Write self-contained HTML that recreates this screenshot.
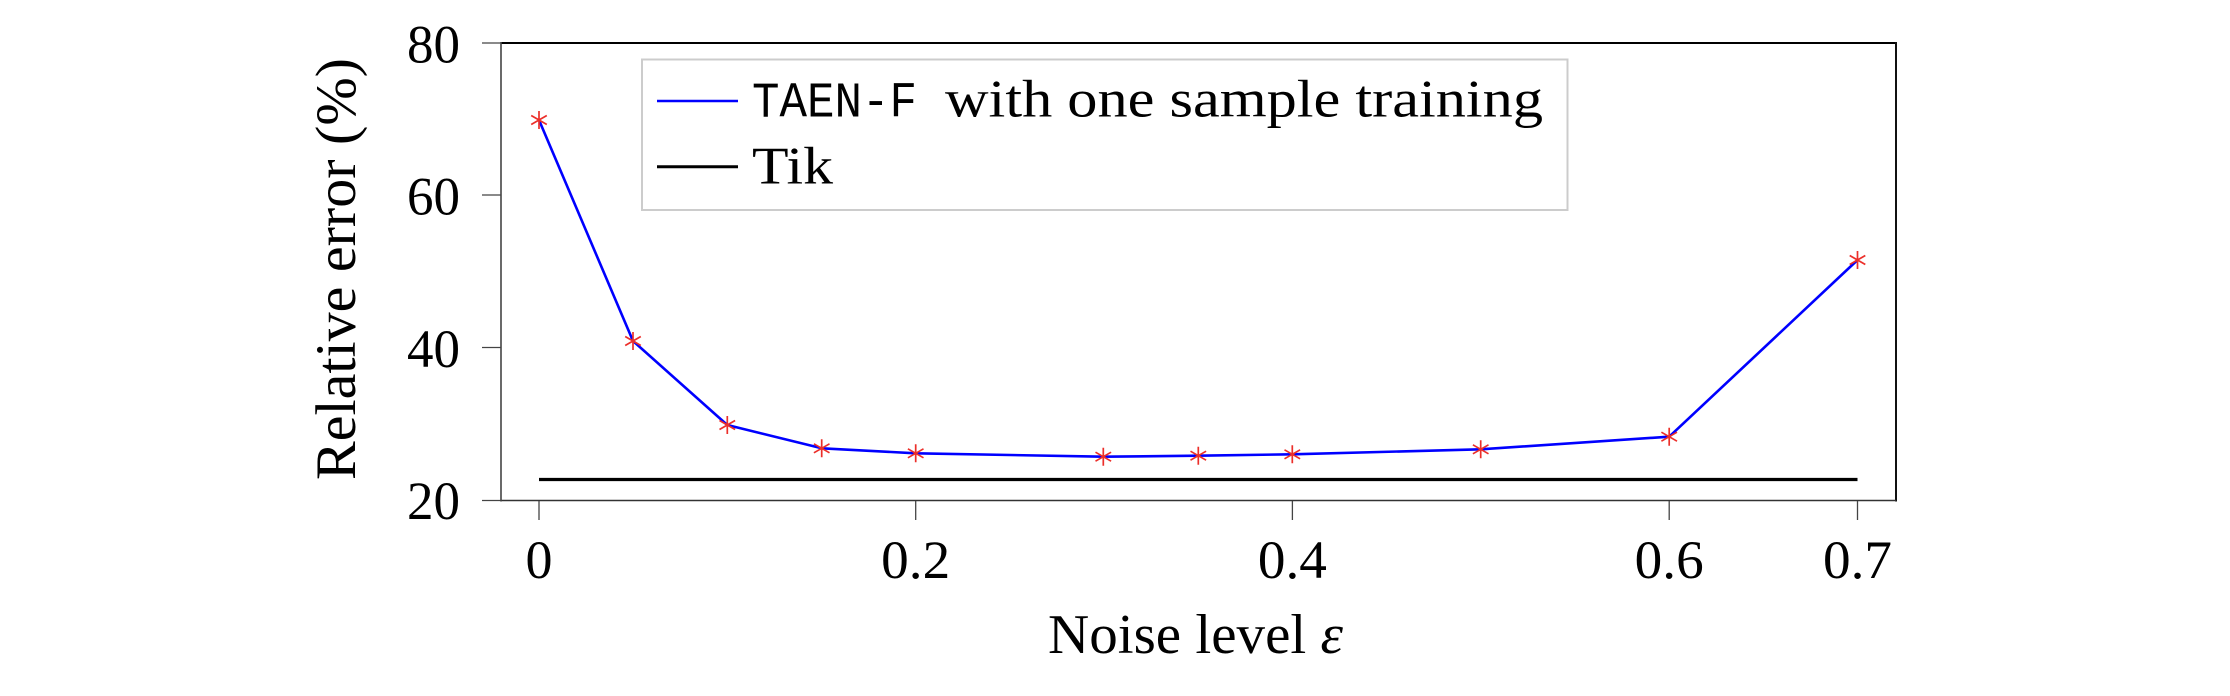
<!DOCTYPE html>
<html>
<head>
<meta charset="utf-8">
<style>
  html, body { margin: 0; padding: 0; background: #ffffff; }
  body { width: 2230px; height: 696px; overflow: hidden; }
  svg { display: block; }
  .serif { font-family: "Liberation Serif", "DejaVu Serif", serif; fill: #000; }
  .mono { font-family: "Liberation Mono", "DejaVu Sans Mono", monospace; fill: #000; }
</style>
</head>
<body>
<svg width="2230" height="696" viewBox="0 0 2230 696" xmlns="http://www.w3.org/2000/svg">
  <rect x="0" y="0" width="2230" height="696" fill="#ffffff"/>

  <!-- Tik horizontal line -->
  <line x1="539" y1="479.5" x2="1857.5" y2="479.5" stroke="#000" stroke-width="3.2"/>

  <!-- Blue series -->
  <polyline fill="none" stroke="#0000ff" stroke-width="2.6" stroke-linejoin="round"
    points="539,120 633,341 727.3,425 821.7,448.3 915.7,453.3 1103.3,456.7 1198.3,455.7 1292.3,454.3 1480.7,449.3 1669.2,436.7 1857.5,260"/>

  <!-- Red asterisk markers -->
  <g stroke="#ec2f2a" stroke-width="1.7" fill="none">
    <path d="M539,111 V129 M531.2,115.5 L546.8,124.5 M531.2,124.5 L546.8,115.5"/>
    <path d="M633,332 V350 M625.2,336.5 L640.8,345.5 M625.2,345.5 L640.8,336.5"/>
    <path d="M727.3,416 V434 M719.5,420.5 L735.1,429.5 M719.5,429.5 L735.1,420.5"/>
    <path d="M821.7,439.3 V457.3 M813.9,443.8 L829.5,452.8 M813.9,452.8 L829.5,443.8"/>
    <path d="M915.7,444.3 V462.3 M907.9,448.8 L923.5,457.8 M907.9,457.8 L923.5,448.8"/>
    <path d="M1103.3,447.7 V465.7 M1095.5,452.2 L1111.1,461.2 M1095.5,461.2 L1111.1,452.2"/>
    <path d="M1198.3,446.7 V464.7 M1190.5,451.2 L1206.1,460.2 M1190.5,460.2 L1206.1,451.2"/>
    <path d="M1292.3,445.3 V463.3 M1284.5,449.8 L1300.1,458.8 M1284.5,458.8 L1300.1,449.8"/>
    <path d="M1480.7,440.3 V458.3 M1472.9,444.8 L1488.5,453.8 M1472.9,453.8 L1488.5,444.8"/>
    <path d="M1669.2,427.7 V445.7 M1661.4,432.2 L1677,441.2 M1661.4,441.2 L1677,432.2"/>
    <path d="M1857.5,251 V269 M1849.7,255.5 L1865.3,264.5 M1849.7,264.5 L1865.3,255.5"/>
  </g>

  <!-- Axes box -->
  <line x1="501" y1="43" x2="1896" y2="43" stroke="#000" stroke-width="2"/>
  <line x1="1896" y1="42" x2="1896" y2="501.5" stroke="#111" stroke-width="2"/>
  <line x1="501" y1="500.5" x2="1896" y2="500.5" stroke="#333" stroke-width="1.6"/>
  <line x1="501" y1="42" x2="501" y2="501.5" stroke="#444" stroke-width="1.6"/>

  <!-- Y ticks -->
  <g stroke="#444" stroke-width="1.3">
    <line x1="482" y1="43" x2="501" y2="43"/>
    <line x1="482" y1="195" x2="501" y2="195"/>
    <line x1="482" y1="347.5" x2="501" y2="347.5"/>
    <line x1="482" y1="500.5" x2="501" y2="500.5"/>
  </g>
  <!-- X ticks -->
  <g stroke="#444" stroke-width="1.3">
    <line x1="539" y1="501" x2="539" y2="520"/>
    <line x1="915.7" y1="501" x2="915.7" y2="520"/>
    <line x1="1292.4" y1="501" x2="1292.4" y2="520"/>
    <line x1="1669.2" y1="501" x2="1669.2" y2="520"/>
    <line x1="1857.5" y1="501" x2="1857.5" y2="520"/>
  </g>

  <!-- Y tick labels -->
  <g class="serif" font-size="54" text-anchor="end">
    <text x="460" y="62.5" textLength="53" lengthAdjust="spacingAndGlyphs">80</text>
    <text x="460" y="214.5" textLength="53" lengthAdjust="spacingAndGlyphs">60</text>
    <text x="460" y="367" textLength="53" lengthAdjust="spacingAndGlyphs">40</text>
    <text x="460" y="519" textLength="53" lengthAdjust="spacingAndGlyphs">20</text>
  </g>

  <!-- X tick labels -->
  <g class="serif" font-size="54" text-anchor="middle">
    <text x="539" y="578">0</text>
    <text x="915.7" y="578" textLength="69" lengthAdjust="spacingAndGlyphs">0.2</text>
    <text x="1292.4" y="578" textLength="69" lengthAdjust="spacingAndGlyphs">0.4</text>
    <text x="1669.2" y="578" textLength="69" lengthAdjust="spacingAndGlyphs">0.6</text>
    <text x="1857.5" y="578" textLength="69" lengthAdjust="spacingAndGlyphs">0.7</text>
  </g>

  <!-- Axis titles -->
  <text class="serif" font-size="56" x="1048" y="653" textLength="295" lengthAdjust="spacingAndGlyphs">Noise level <tspan font-style="italic">ε</tspan></text>
  <text class="serif" font-size="57" text-anchor="middle" transform="translate(355,269) rotate(-90)" textLength="422" lengthAdjust="spacingAndGlyphs">Relative error (%)</text>

  <!-- Legend -->
  <rect x="642" y="59.5" width="925.5" height="150.5" fill="#ffffff" stroke="#cccccc" stroke-width="2"/>
  <line x1="657" y1="101" x2="738" y2="101" stroke="#0000ff" stroke-width="2.6"/>
  <line x1="657" y1="166.7" x2="738" y2="166.7" stroke="#000" stroke-width="3"/>
  <text class="mono" font-size="50" x="752" y="116.7" textLength="165" lengthAdjust="spacingAndGlyphs">TAEN-F</text>
  <text class="serif" font-size="53" x="945" y="116.7" textLength="598" lengthAdjust="spacingAndGlyphs">with one sample training</text>
  <text class="serif" font-size="53" x="752" y="183.3" textLength="81" lengthAdjust="spacingAndGlyphs">Tik</text>
</svg>
</body>
</html>
